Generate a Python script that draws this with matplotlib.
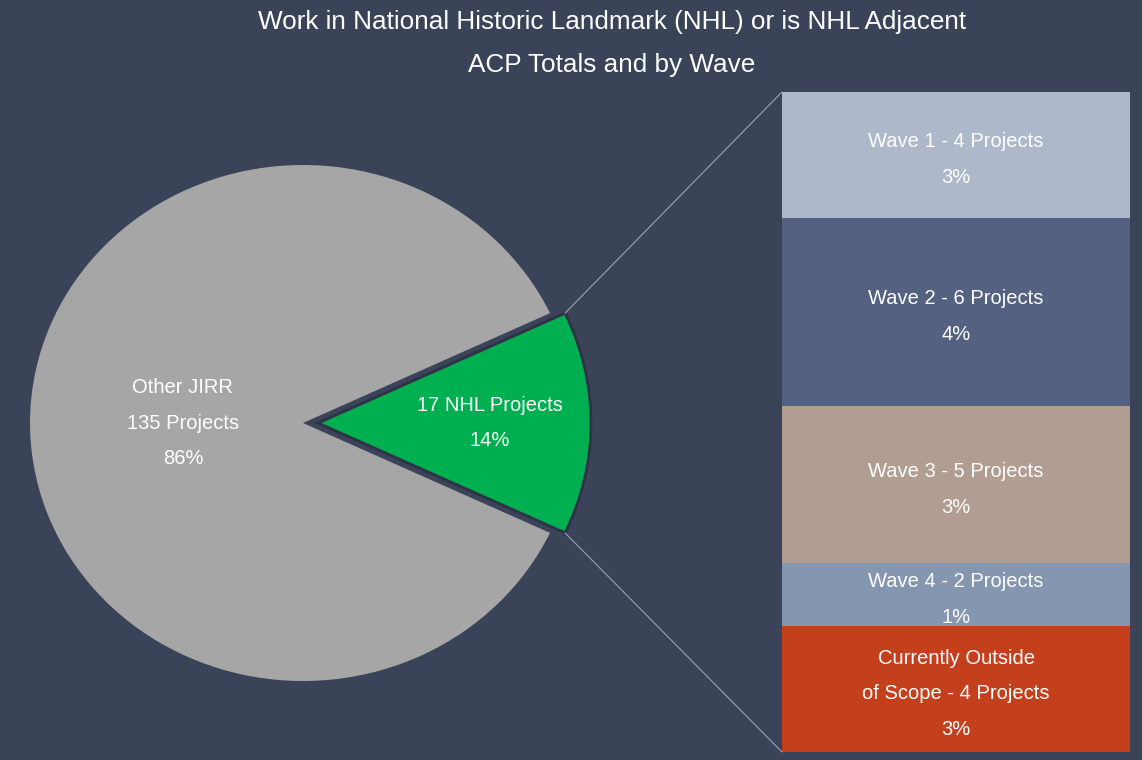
import numpy as np
import matplotlib
matplotlib.use("Agg")
import matplotlib.pyplot as plt
from matplotlib.patches import ConnectionPatch

# pie: share of all ACP projects
pie_labels = ["Other JIRR\n135 Projects", "17 NHL Projects"]
pie_shares = [86, 14]
pie_colors = ["#a6a6a6", "#00b050"]

# breakdown of the NHL slice by wave
wave_labels = ["Wave 1 - 4 Projects", "Wave 2 - 6 Projects", "Wave 3 - 5 Projects",
               "Wave 4 - 2 Projects", "Currently Outside\nof Scope - 4 Projects"]
wave_counts = [4, 6, 5, 2, 4]
wave_pcts = [3, 4, 3, 1, 3]
wave_colors = ["#adb9ca", "#546181", "#b29d92", "#8496b0", "#c4401d"]

bg = "#3a4358"
W, H = 1142, 760
plt.rcParams["font.family"] = ["Liberation Sans", "DejaVu Sans"]

fig = plt.figure(figsize=(W / 100, H / 100), dpi=100, facecolor=bg)

# pie axes, slightly wider than tall like the original
cx, cy, rx, ry = 303, 423, 273, 258
lim = 1.1
ax = fig.add_axes([(cx - lim * rx) / W, (H - cy - lim * ry) / H,
                   2 * lim * rx / W, 2 * lim * ry / H])
ax.set_facecolor(bg)
start = pie_shares[1] / 100 * 360 / 2
wedges, _ = ax.pie(pie_shares, colors=pie_colors, startangle=start,
                   explode=[0, 0.055], radius=1.0)
wedges[1].set_edgecolor("#2e3248")
wedges[1].set_linewidth(2)
ax.set_aspect("auto")
ax.set_xlim(-lim, lim)
ax.set_ylim(-lim, lim)
ax.axis("off")

label_dist = [0.44, 0.63]
for w, lab, pct, d in zip(wedges, pie_labels, pie_shares, label_dist):
    mid = np.deg2rad((w.theta1 + w.theta2) / 2)
    x0, y0 = w.center
    ax.text(x0 + d * np.cos(mid), y0 + d * np.sin(mid), f"{lab}\n{pct}%",
            ha="center", va="center", color="white", fontsize=14.5, linespacing=2.1)

# stacked column on the right
ax2 = fig.add_axes([782 / W, 8 / H, 348 / W, 660 / H])
total = sum(wave_counts)
bottoms = np.concatenate([[0], np.cumsum(wave_counts)[:-1]])
ax2.bar(0.5, wave_counts, bottom=bottoms, width=1, color=wave_colors)
ax2.set_xlim(0, 1)
ax2.set_ylim(total, 0)
ax2.axis("off")
for b, n, lab, pct in zip(bottoms, wave_counts, wave_labels, wave_pcts):
    ax2.text(0.5, b + n / 2 + 0.15, f"{lab}\n{pct}%", ha="center", va="center",
             color="white", fontsize=14.5, linespacing=2.1)

# connector lines from the green slice to the column
g = wedges[1]
gx, gy = g.center
for ang, yb in [(g.theta2, 0), (g.theta1, total)]:
    a = np.deg2rad(ang)
    con = ConnectionPatch(xyA=(gx + np.cos(a), gy + np.sin(a)), coordsA=ax.transData,
                          xyB=(0, yb), coordsB=ax2.transData,
                          color="#9aa3b5", linewidth=0.8)
    fig.add_artist(con)

fig.text(0.536, 1 - 22 / H, "Work in National Historic Landmark (NHL) or is NHL Adjacent",
         ha="center", va="center", color="white", fontsize=18.8)
fig.text(0.536, 1 - 65 / H, "ACP Totals and by Wave",
         ha="center", va="center", color="white", fontsize=18.8)

fig.savefig("out.png", dpi=100, facecolor=bg)
